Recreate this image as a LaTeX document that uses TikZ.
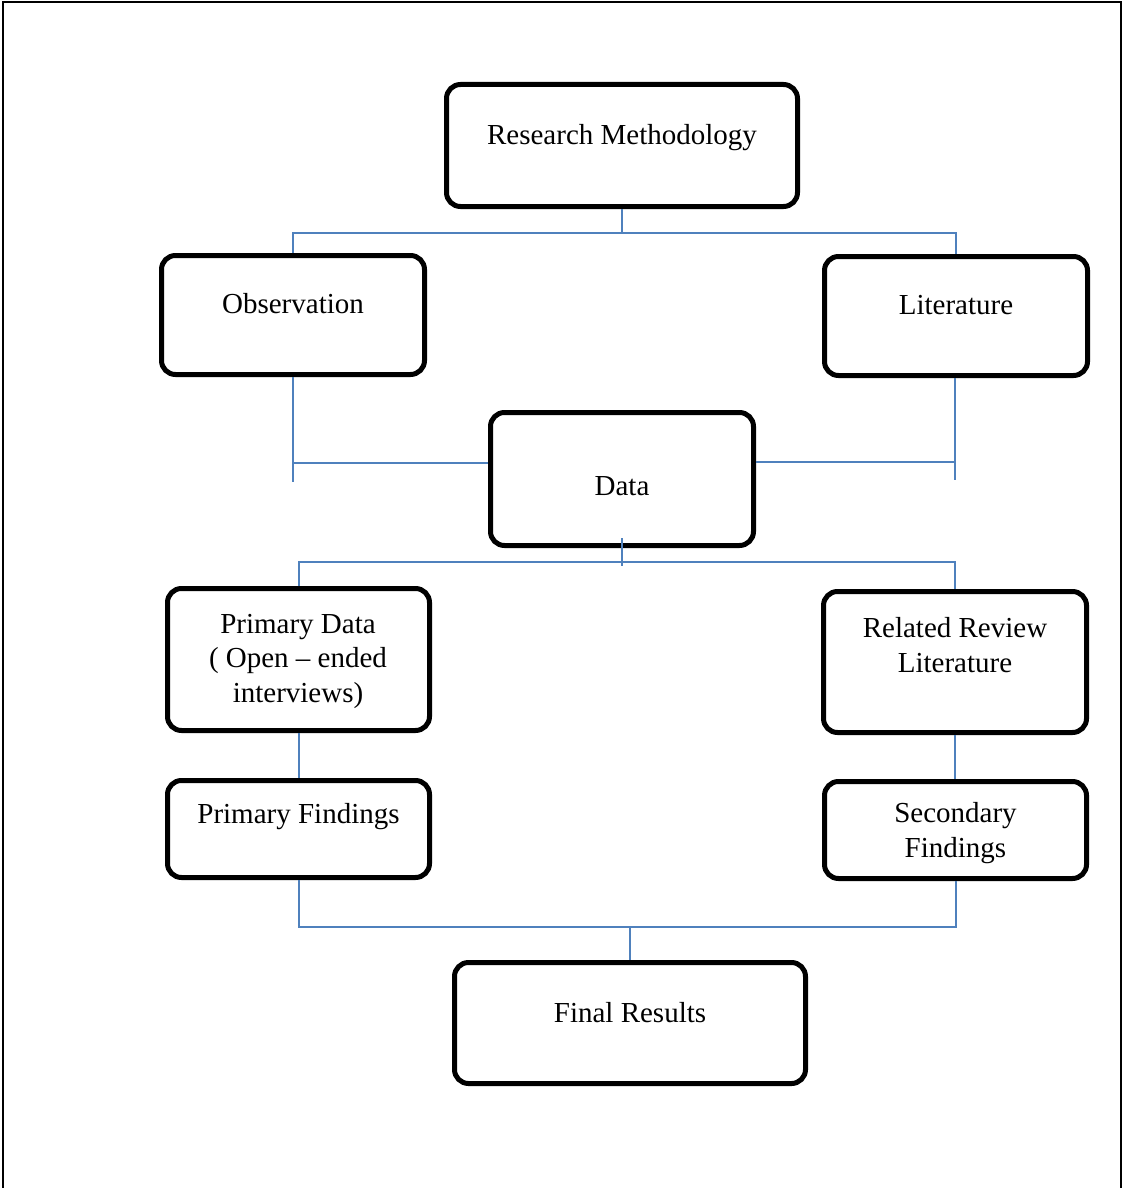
\documentclass[tikz,border=0pt]{standalone}
\usepackage{fontspec}
\setmainfont{Liberation Serif}
\definecolor{connblue}{RGB}{79,129,189}
\tikzset{
  box/.style={draw=black, line width=5pt, rounded corners=14pt, inner sep=0pt},
  lbl/.style={anchor=base, align=center, inner sep=0pt, font=\fontsize{29}{34.5}\selectfont},
  conn/.style={draw=connblue, line width=2pt},
  frame/.style={draw=black, line width=2.6pt}
}
\begin{document}
\begin{tikzpicture}[x=1pt,y=-1pt]
\useasboundingbox (0,0) rectangle (1123,1188);
% outer frame (open at the bottom)
\coordinate (fbl) at (3,1188);
\coordinate (fbr) at (1121,1188);
\draw[frame] (fbl) |- (1121,2) -- (fbr);

% boxes
\node[box, minimum width=351pt, minimum height=122pt] (rm)   at (622,145.5) {};
\node[box, minimum width=263pt, minimum height=119pt] (obs)  at (293,315) {};
\node[box, minimum width=263pt, minimum height=119pt] (lit)  at (956,316) {};
\node[box, minimum width=263pt, minimum height=133pt] (data) at (622,479) {};
\node[box, minimum width=262pt, minimum height=142pt] (pd)   at (298.5,659.5) {};
\node[box, minimum width=263pt, minimum height=141pt] (rr)   at (955,662) {};
\node[box, minimum width=262pt, minimum height=97pt]  (pf)   at (298.5,829) {};
\node[box, minimum width=262pt, minimum height=97pt]  (sf)   at (955.5,830) {};
\node[box, minimum width=351pt, minimum height=121pt] (fr)   at (630,1023) {};

% labels (anchor base = baseline of the last line)
\node[lbl] (rmt)   at (622,145) {Research Methodology};
\node[lbl] (obst)  at (293,313) {Observation};
\node[lbl] (litt)  at (956,314) {Literature};
\node[lbl] (datat) at (622,495) {Data};
\node[lbl] (pdt)   at (298,702) {Primary Data\\( Open -- ended\\interviews)};
\node[lbl] (rrt)   at (955,672) {Related Review\\Literature};
\node[lbl] (pft)   at (298.5,823) {Primary Findings};
\node[lbl] (sft)   at (955.5,857) {Secondary\\Findings};
\node[lbl] (frt)   at (630,1022) {Final Results};

% connectors: Research Methodology -> Observation / Literature
\coordinate (j1) at (622,233);
\draw[conn] (rm.south) -- (j1);
\draw[conn] (obs.north) |- (j1) -| (lit.north);

% Observation / Literature -> Data
\coordinate (j2) at (293,463);
\coordinate (e2) at (293,482);
\draw[conn] (obs.south) -- (e2);
\draw[conn] (j2) -- (j2 -| data.west);
\coordinate (j3) at (955,462);
\coordinate (e3) at (955,480);
\draw[conn] (lit.south -| j3) -- (e3);
\draw[conn] (j3) -- (j3 -| data.east);

% Data -> Primary Data / Related Review Literature
\coordinate (d1) at (622,538);
\coordinate (d2) at (622,566);
\coordinate (j4) at (622,562);
\draw[conn] (d1) -- (d2);
\draw[conn] (pd.north) |- (j4) -| (rr.north);

% Primary Data -> Primary Findings, Related Review -> Secondary Findings
\draw[conn] (pd.south) -- (pf.north);
\draw[conn] (rr.south) -- (rr.south |- sf.north);

% Findings -> Final Results
\coordinate (j5) at (630,927);
\draw[conn] (pf.south) |- (j5) -| (sf.south);
\draw[conn] (j5) -- (fr.north);
\end{tikzpicture}
\end{document}
